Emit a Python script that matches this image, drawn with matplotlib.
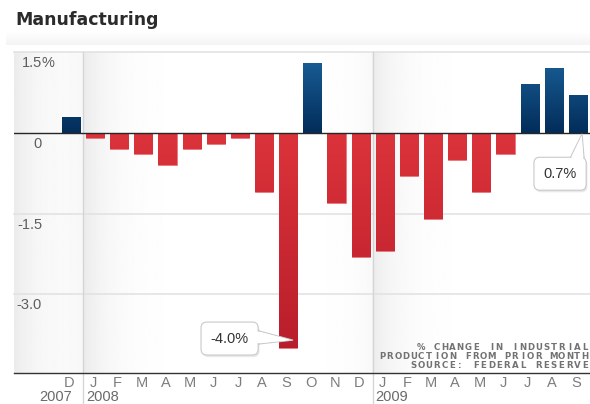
import numpy as np
import matplotlib
matplotlib.use("Agg")
import matplotlib.pyplot as plt
from matplotlib import transforms
from matplotlib.colors import LinearSegmentedColormap, Normalize
from matplotlib.patches import Polygon
from matplotlib.patheffects import withSimplePatchShadow

plt.rcParams['font.family'] = ['Liberation Sans', 'DejaVu Sans']

# monthly % change in manufacturing output, Dec 2007 - Sep 2009
months = ['D', 'J', 'F', 'M', 'A', 'M', 'J', 'J', 'A', 'S', 'O', 'N', 'D',
          'J', 'F', 'M', 'A', 'M', 'J', 'J', 'A', 'S']
changes = [0.3, -0.1, -0.3, -0.4, -0.6, -0.3, -0.2, -0.1, -1.1, -4.0, 1.3, -1.3, -2.3,
           -2.2, -0.8, -1.6, -0.5, -1.1, -0.4, 0.9, 1.2, 0.7]
years = ['2007', '2008', '2009']
year_start = [0, 1, 13]
yticks = [1.5, 0, -1.5, -3.0]
ytick_labels = ['1.5', '0', '-1.5', '-3.0']
source_lines = ['% CHANGE IN INDUSTRIAL', 'PRODUCTION FROM PRIOR MONTH', 'SOURCE: FEDERAL RESERVE']

W, H = 590, 404
PX = 0.72  # one pixel in points at dpi 100

fig = plt.figure(figsize=(W / 100, H / 100), dpi=100)
fig.patch.set_facecolor('white')

# title and the faint band under it
fig.text(15 / W, 1 - 20 / H, 'Manufacturing', fontsize=12.5, fontweight='bold',
         color='#2b2b2b', va='center', ha='left', family='DejaVu Sans')
band = fig.add_axes([6 / W, 1 - 45 / H, 584 / W, 14 / H])
band.imshow(np.linspace(1.0, 0.955, 20)[:, None], cmap='gray', vmin=0, vmax=1,
            aspect='auto', extent=(0, 1, 0, 1))
band.axis('off')

ax = fig.add_axes([14 / W, 31 / H, 576 / W, 321 / H])
xlo, xhi = -2.36, 21.5
ylo, yhi = -4.46, 1.5
x = np.arange(len(changes))

# soft gray shading at the start of each year block
xs = np.linspace(xlo, xhi, 800)
edges = np.array([xlo, 0.5, 12.5])
shade = np.ones_like(xs)
for e in edges:
    d = xs - e
    shade -= np.where(d >= 0, 0.075 * np.exp(-d / 1.1), 0.025 * np.exp(d / 1.0))
ax.imshow(shade[None, :], cmap='gray', vmin=0, vmax=1, aspect='auto',
          extent=(xlo, xhi, ylo, yhi), zorder=0)

# gridlines
for yv in [1.5, -1.5, -3.0]:
    ax.axhline(yv, color='#e2e2e2', lw=1.6 * PX, zorder=1, clip_on=False)

# bars, with vertical gradient fills
red = LinearSegmentedColormap.from_list('r', ['#b51c29', '#dc333b'])
blue = LinearSegmentedColormap.from_list('b', ['#022d5a', '#1b629c'])
rnorm = Normalize(ylo, 0)
bnorm = Normalize(0, yhi)
colors = ['#1a5a92' if v > 0 else '#d42f37' for v in changes]
edgecols = ['#3f77a8' if v > 0 else '#e8767c' for v in changes]
bars = ax.bar(x, changes, width=0.75, color=colors, edgecolor=edgecols,
              linewidth=0.8 * PX, zorder=2)
for b, v in zip(bars, changes):
    x0 = b.get_x()
    x1 = x0 + b.get_width()
    y0, y1 = min(0, v), max(0, v)
    ys = np.linspace(y1, y0, 64)[:, None]
    cmap, norm = (blue, bnorm) if v > 0 else (red, rnorm)
    im = ax.imshow(ys, cmap=cmap, norm=norm, aspect='auto',
                   extent=(x0, x1, y0, y1), zorder=2.5)
    im.set_clip_path(b)

# zero line and bottom axis
ax.axhline(0, color='#262626', lw=1.4 * PX, zorder=4)
ax.axhline(ylo, color='#333333', lw=1.4 * PX, zorder=4, clip_on=False)

# year separators run down through the month labels
for sep in [0.5, 12.5]:
    ax.axvline(sep, ymin=-31 / 321, ymax=1, color='#d4d4d4', lw=1.3 * PX,
               zorder=1.5, clip_on=False)

ax.set_xlim(xlo, xhi)
ax.set_ylim(ylo, yhi)
ax.axis('off')

# y labels sit just under their gridlines, inside the plot
ylab_tr = transforms.offset_copy(transforms.blended_transform_factory(ax.transAxes, ax.transData),
                                 fig=fig, x=0, y=-11, units='dots')
lx = (42 - 14) / 576
for yv, lab in zip(yticks, ytick_labels):
    ax.text(lx, yv, lab, transform=ylab_tr, ha='right', va='center',
            fontsize=10.5, color='#5e5e5e', zorder=5)
    if yv == yticks[0]:
        ax.text(lx, yv, '%', transform=ylab_tr, ha='left', va='center',
                fontsize=10.5, color='#5e5e5e', zorder=5)

# month and year labels
xb = transforms.blended_transform_factory(ax.transData, ax.transAxes)
mon_tr = transforms.offset_copy(xb, fig=fig, x=0, y=-10, units='dots')
yr_tr = transforms.offset_copy(xb, fig=fig, x=0, y=-24, units='dots')
for i, m in enumerate(months):
    ax.text(i - 0.08, 0, m, transform=mon_tr, ha='center', va='center',
            fontsize=10.5, color='#7c7c7c')
for yr, s in zip(years, year_start):
    if s == 0:
        ax.text(s + 0.05, 0, yr, transform=yr_tr, ha='right', va='center',
                fontsize=10.5, color='#6a6a6a')
    else:
        ax.text(s - 0.38, 0, yr, transform=yr_tr, ha='left', va='center',
                fontsize=10.5, color='#6a6a6a')

# callouts for the extreme and the latest reading
box = dict(boxstyle='round,pad=0.65,rounding_size=0.4', fc='white', ec='#c9c9c9', lw=0.8)
lo = int(np.argmin(changes))
last = len(changes) - 1
# (bar, pointer tip, box centre, box side the pointer leaves from, span along that side)
callouts = [(lo, (lo + 0.2, changes[lo] + 0.15), (6.57, -3.82), 'right', (0.33, 0.74)),
            (last, (last + 0.17, -0.02), (20.26, -0.76), 'top', (0.70, 0.96))]
labels = []
for i, tip, centre, side, span in callouts:
    t = ax.text(centre[0], centre[1], f'{changes[i]:.1f}%', ha='center', va='center',
                fontsize=10.5, color='#333333', bbox=box, zorder=6)
    labels.append(t)

fig.canvas.draw()
renderer = fig.canvas.get_renderer()
to_data = ax.transData.inverted()
for t, (i, tip, centre, side, span) in zip(labels, callouts):
    patch = t.get_bbox_patch()
    patch.set_path_effects([withSimplePatchShadow(offset=(1, -1.5), alpha=0.12)])
    bb = patch.get_window_extent(renderer)
    tx, ty = ax.transData.transform(tip)
    if side == 'right':
        ya, yb = bb.y0 + span[0] * bb.height, bb.y0 + span[1] * bb.height
        outer = [(bb.x1 - 4, yb), (bb.x1, yb), (tx, ty), (bb.x1, ya), (bb.x1 - 4, ya)]
        inner = [(bb.x1 - 4, yb - 1), (bb.x1, yb - 1), (tx - 1.5, ty), (bb.x1, ya + 1), (bb.x1 - 4, ya + 1)]
    else:
        xa, xb_ = bb.x0 + span[0] * bb.width, bb.x0 + span[1] * bb.width
        outer = [(xa, bb.y1 - 4), (xa, bb.y1), (tx, ty), (xb_, bb.y1), (xb_, bb.y1 - 4)]
        inner = [(xa + 1, bb.y1 - 4), (xa + 1, bb.y1), (tx - 0.3, ty - 1.5), (xb_ - 1, bb.y1), (xb_ - 1, bb.y1 - 4)]
    ax.add_patch(Polygon(to_data.transform(outer), closed=True, fc='white', ec='#c9c9c9',
                         lw=0.8, zorder=5.8, clip_on=False))
    ax.add_patch(Polygon(to_data.transform(inner), closed=True, fc='white', ec='none',
                         zorder=6.5, clip_on=False))

# source note, widely tracked small caps
pitch = 7.8
for k, line in enumerate(source_lines):
    yy = 1 - (348 + 8.8 * k) / H
    n = len(line)
    for j, ch in enumerate(line):
        xx = 588 - pitch * (n - 1 - j) - 3
        fig.text(xx / W, yy, ch, fontsize=6.2, color='#727272', ha='center', va='center',
                 family='DejaVu Sans', fontweight='bold')

fig.savefig('out.png', dpi=100, facecolor='white')
